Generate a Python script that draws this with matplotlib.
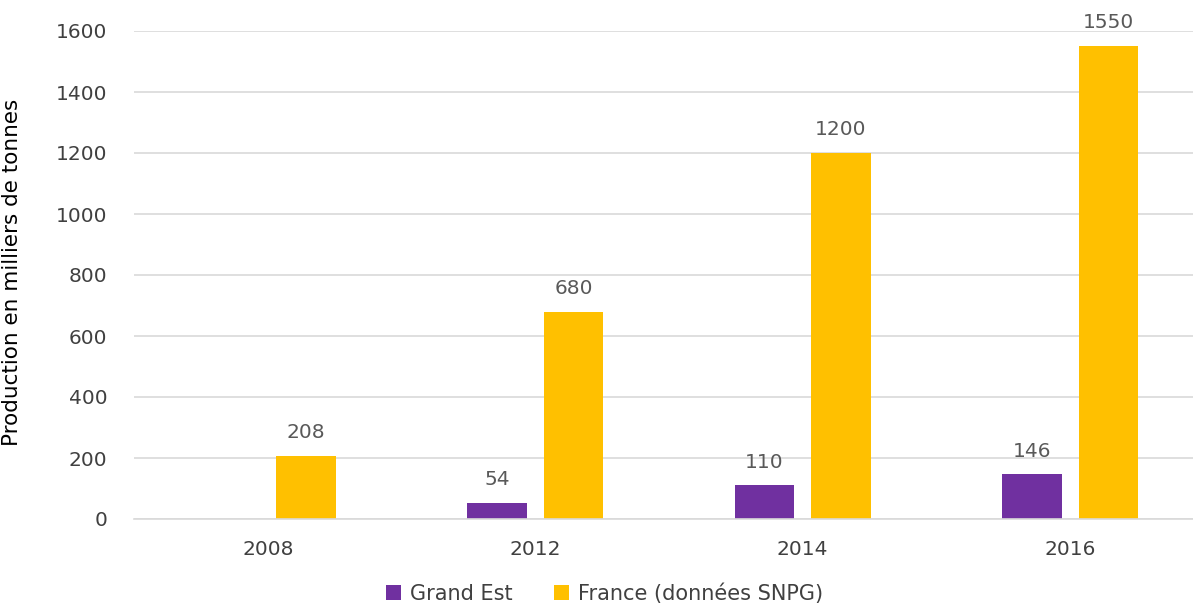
import matplotlib.pyplot as plt
import numpy as np

years = ["2008", "2012", "2014", "2016"]
grandEst = [np.nan, 54, 110, 146]
france = [208, 680, 1200, 1550]
seriesNames = ["Grand Est", "France (données SNPG)"]

purple = "#7030A0"
yellow = "#FFC000"
textGrey = "#595959"


def plotBars():
	fig = plt.figure(figsize=(11.93, 6.07), dpi=100)
	ax = fig.add_axes([134 / 1193, 1 - 519 / 607, 1070 / 1193, 488 / 607])

	x = np.arange(len(years))
	w = 0.222
	off = (w + 0.064) / 2
	b1 = ax.bar(x - off, grandEst, w, color=purple, label=seriesNames[0], zorder=2)
	b2 = ax.bar(x + off, france, w, color=yellow, label=seriesNames[1], zorder=2)

	for bars, vals in [(b1, grandEst), (b2, france)]:
		for rect, v in zip(bars, vals):
			if np.isnan(v):
				continue
			ax.annotate(str(v), (rect.get_x() + rect.get_width() / 2, v),
				xytext=(0, 10), textcoords="offset points",
				ha="center", va="bottom", fontsize=14.5, color=textGrey)

	ax.set_xlim(-0.5, 3.5)
	ax.set_ylim(0, 1600)
	ax.set_yticks(range(0, 1601, 200))
	ax.set_xticks(x)
	ax.set_xticklabels(years)
	ax.tick_params(axis="both", length=0, labelsize=14.5, colors="#404040")
	ax.tick_params(axis="x", pad=15)
	ax.tick_params(axis="y", pad=19)

	ax.yaxis.grid(True, color="#D9D9D9", linewidth=1.2, zorder=0)
	ax.set_axisbelow(True)
	for s in ["top", "right", "left"]:
		ax.spines[s].set_visible(False)
	ax.spines["bottom"].set_color("#D9D9D9")
	ax.spines["bottom"].set_linewidth(1.2)

	ax.set_ylabel("Production en milliers de tonnes", fontsize=15.5,
		color="#000000", fontweight="medium")
	ax.yaxis.set_label_coords(-0.105, 0.506)

	fig.legend(loc="center", bbox_to_anchor=(0.507, 0.022), ncol=2, frameon=False,
		fontsize=15, handlelength=0.7, handleheight=0.7, handletextpad=0.45,
		columnspacing=2.0, labelcolor="#404040", borderpad=0.1)

	fig.savefig("out.png", dpi=100)


if __name__ == "__main__":
	plotBars()
